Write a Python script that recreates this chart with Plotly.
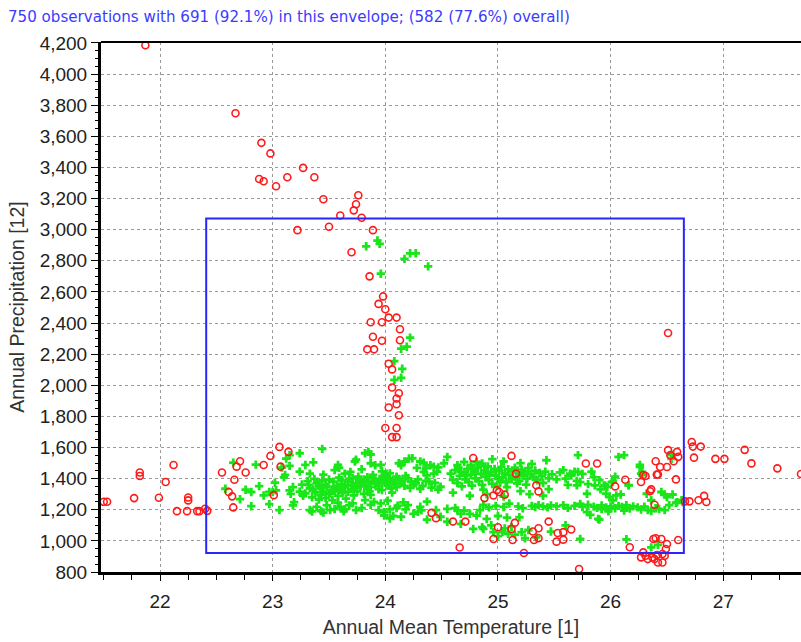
import plotly.graph_objects as go

# ---------------- data ----------------
title_text = "750 observations with 691 (92.1%) in this envelope; (582 (77.6%) overall)"
x_title = "Annual Mean Temperature [1]"
y_title = "Annual Precipitation [12]"

x_ticks = [22, 23, 24, 25, 26, 27]
y_ticks = [800, 1000, 1200, 1400, 1600, 1800, 2000, 2200, 2400, 2600, 2800,
           3000, 3200, 3400, 3600, 3800, 4000, 4200]

# envelope (temperature min/max, precipitation min/max)
env_temp = [22.41, 26.65]
env_prec = [922, 3072]

# observations outside the envelope (red circles)
red_top = [(21.87, 4185), (22.67, 3748), (22.90, 3558), (22.98, 3490), (23.27, 3397),
           (22.88, 3326), (22.92, 3311), (23.13, 3337), (23.37, 3337), (23.03, 3279),
           (23.76, 3221), (23.45, 3195), (23.74, 3163), (23.72, 3124), (23.60, 3091),
           (23.79, 3077), (23.22, 2997), (23.50, 3019), (23.89, 2997), (23.70, 2855),
           (23.86, 2700), (23.98, 2571), (23.94, 2523), (24.00, 2489), (24.03, 2435),
           (24.10, 2435), (23.87, 2405), (23.97, 2405), (24.13, 2360), (23.89, 2312),
           (23.97, 2286), (24.13, 2289), (23.84, 2231), (23.90, 2231), (24.03, 2138),
           (24.06, 2102), (24.06, 1986), (24.12, 1949), (24.10, 1915), (24.10, 1878),
           (24.03, 1857), (24.12, 1807), (24.00, 1725), (24.10, 1725), (24.06, 1667),
           (24.10, 1667), (26.51, 2336)]
red_left = [(21.50, 1251), (21.53, 1251), (21.77, 1275), (21.82, 1439), (21.82, 1417),
            (21.99, 1277), (22.05, 1378), (22.12, 1488), (22.15, 1191), (22.24, 1191),
            (22.25, 1279), (22.25, 1260), (22.33, 1191), (22.35, 1191), (22.40, 1206),
            (22.42, 1193), (22.55, 1439), (22.66, 1393), (22.61, 1314), (22.64, 1286),
            (22.65, 1215), (22.68, 1477), (22.71, 1512), (22.76, 1439), (22.92, 1488),
            (22.98, 1546), (23.06, 1604), (23.07, 1477), (23.14, 1572), (23.01, 1294)]
red_mid = [(24.78, 1533), (24.88, 1275), (24.41, 1180), (24.45, 1146), (24.60, 1124),
           (24.71, 1124), (24.66, 957), (25.12, 1546), (25.78, 1497), (25.88, 1497),
           (24.96, 1292), (24.99, 1325), (25.01, 1314), (25.06, 1297), (25.16, 1432),
           (25.34, 1357), (25.36, 1318), (25.15, 1116), (25.12, 1077), (25.00, 1088),
           (24.96, 1012), (25.13, 1006), (25.31, 1060), (25.36, 1081), (25.32, 1006),
           (25.36, 1017), (25.45, 1124), (25.53, 1051), (25.58, 1056), (25.65, 1073),
           (25.52, 995), (25.58, 1008), (25.23, 922), (25.72, 819)]
red_right = [(26.04, 1350), (26.13, 1393), (26.27, 1378), (26.36, 1331), (26.39, 1232),
             (26.31, 1417), (26.41, 1426), (26.44, 1475), (26.40, 1512), (26.50, 1475),
             (26.56, 1512), (26.53, 1551), (26.51, 1583), (26.59, 1572), (26.60, 1540),
             (26.42, 1427), (26.29, 1423), (26.58, 1395), (26.35, 1319),
             (26.72, 1635), (26.73, 1606), (26.80, 1606), (26.74, 1535), (26.93, 1527),
             (27.01, 1527), (27.19, 1585), (27.25, 1498), (27.48, 1466), (27.69, 1430),
             (26.66, 1254), (26.70, 1254), (26.78, 1261), (26.83, 1289), (26.85, 1250),
             (26.17, 959), (26.27, 894), (26.29, 926), (26.31, 904), (26.33, 883),
             (26.37, 894), (26.39, 883), (26.42, 861), (26.46, 861), (26.48, 904),
             (26.49, 948), (26.50, 980), (26.40, 1017), (26.45, 1012), (26.41, 909),
             (26.46, 916), (26.60, 1006), (26.38, 1012)]

# observations inside the envelope (green crosses)
green_column = [(23.83, 2893), (23.93, 2930), (23.95, 2909), (24.17, 2812), (24.22, 2848),
                (24.27, 2848), (24.38, 2764), (23.96, 2717), (24.22, 2306), (24.14, 2235),
                (24.19, 2248), (24.08, 2155), (24.15, 2106), (24.08, 2035), (24.14, 2048)]
green_left = [(22.65, 1503), (22.58, 1335), (22.76, 1329), (22.81, 1314), (22.81, 1223),
              (22.85, 1490), (22.92, 1292), (22.97, 1314), (23.00, 1314), (23.03, 1325),
              (22.97, 1236), (23.02, 1374), (23.06, 1198), (23.10, 1408), (23.12, 1529),
              (23.15, 1551), (23.15, 1482), (23.18, 1346), (23.15, 1325), (23.19, 1249),
              (23.18, 1228), (22.71, 1268), (22.88, 1352), (23.08, 1471), (23.11, 1424),
              (23.16, 1302)]
green_upper1 = [(23.24, 1563), (23.24, 1445), (23.29, 1488), (23.33, 1432), (23.36, 1505),
                (23.44, 1591), (23.45, 1426), (23.58, 1488), (23.59, 1470), (23.69, 1443),
                (23.73, 1510), (23.74, 1522), (23.79, 1460), (23.82, 1563), (23.85, 1572),
                (23.87, 1555), (23.87, 1499), (23.91, 1486), (23.96, 1488), (23.97, 1447),
                (24.01, 1432), (24.12, 1499), (24.14, 1486), (24.17, 1510), (24.21, 1529),
                (24.24, 1531), (24.28, 1469), (24.31, 1510), (24.34, 1503), (24.36, 1467),
                (24.40, 1486), (24.43, 1477), (24.46, 1445), (24.47, 1472), (24.52, 1499),
                (24.34, 1443), (24.37, 1421), (24.43, 1432), (23.55, 1455), (23.64, 1432)]
green_core1 = [(23.24, 1316), (23.26, 1362), (23.27, 1290), (23.29, 1305), (23.31, 1384),
               (23.32, 1359), (23.33, 1338), (23.35, 1280), (23.36, 1330), (23.37, 1398),
               (23.38, 1312), (23.39, 1370), (23.41, 1266), (23.41, 1350), (23.43, 1342),
               (23.43, 1296), (23.44, 1388), (23.45, 1316), (23.47, 1275), (23.47, 1362),
               (23.48, 1348), (23.50, 1301), (23.50, 1394), (23.51, 1305), (23.53, 1330),
               (23.53, 1262), (23.54, 1381), (23.55, 1321), (23.57, 1352), (23.57, 1338),
               (23.58, 1289), (23.59, 1406), (23.61, 1366), (23.61, 1391), (23.62, 1309),
               (23.64, 1344), (23.64, 1359), (23.65, 1272), (23.67, 1380), (23.67, 1316),
               (23.68, 1398), (23.70, 1333), (23.70, 1356), (23.71, 1402), (23.72, 1292),
               (23.74, 1371), (23.74, 1340), (23.75, 1318), (23.76, 1413), (23.78, 1386),
               (23.78, 1350), (23.79, 1370), (23.81, 1302), (23.81, 1395), (23.82, 1362),
               (23.84, 1334), (23.84, 1410), (23.85, 1380), (23.87, 1346), (23.87, 1295),
               (23.88, 1404), (23.89, 1424), (23.91, 1366), (23.91, 1388), (23.92, 1381),
               (23.94, 1352), (23.94, 1332), (23.95, 1398), (23.97, 1372), (23.97, 1326),
               (23.98, 1415), (23.99, 1413), (24.00, 1386), (24.02, 1356), (24.02, 1370),
               (24.03, 1402), (24.04, 1434), (24.05, 1338), (24.07, 1380), (24.07, 1391),
               (24.08, 1362), (24.10, 1412), (24.10, 1345), (24.12, 1398), (24.13, 1370),
               (24.15, 1386), (24.17, 1354), (24.18, 1418), (24.20, 1402), (24.22, 1340),
               (24.23, 1380), (24.25, 1362), (24.27, 1370), (24.29, 1395), (24.31, 1335),
               (24.33, 1352), (24.36, 1385), (24.39, 1381), (24.41, 1342), (24.44, 1372),
               (24.47, 1330), (24.49, 1348), (23.60, 1328), (23.86, 1318), (24.06, 1310)]
green_lower1 = [(23.33, 1198), (23.39, 1219), (23.43, 1191), (23.48, 1230), (23.51, 1198),
                (23.55, 1204), (23.60, 1219), (23.64, 1204), (23.71, 1241), (23.74, 1198),
                (23.82, 1262), (23.87, 1232), (23.94, 1198), (23.96, 1241), (23.99, 1185),
                (24.04, 1144), (24.04, 1202), (24.07, 1160), (24.10, 1211), (24.11, 1226),
                (24.14, 1155), (24.18, 1202), (24.20, 1230), (24.25, 1174), (24.29, 1187),
                (24.31, 1219), (24.37, 1252), (24.37, 1137), (24.45, 1198), (24.49, 1155),
                (24.55, 1123), (23.35, 1189), (23.45, 1182), (23.63, 1190), (23.79, 1211),
                (23.99, 1163), (24.32, 1196), (23.58, 1245), (23.68, 1228), (23.90, 1250),
                (24.02, 1258), (24.16, 1248)]
green_upper2 = [(24.55, 1540), (24.64, 1486), (24.70, 1507), (24.76, 1486), (24.81, 1507),
                (24.86, 1497), (24.78, 1464), (24.58, 1432), (24.67, 1443), (24.72, 1421),
                (24.80, 1432), (24.90, 1443), (24.92, 1421), (25.43, 1518), (25.20, 1500),
                (25.05, 1510), (24.95, 1525), (25.30, 1495)]
green_core2 = [(24.60, 1392), (24.62, 1455), (24.64, 1372), (24.66, 1418), (24.68, 1350),
               (24.70, 1440), (24.71, 1395), (24.73, 1462), (24.74, 1378), (24.76, 1425),
               (24.77, 1355), (24.79, 1448), (24.80, 1402), (24.82, 1470), (24.83, 1384),
               (24.85, 1430), (24.86, 1360), (24.88, 1455), (24.89, 1412), (24.91, 1478),
               (24.92, 1390), (24.94, 1440), (24.95, 1366), (24.97, 1462), (24.98, 1420),
               (25.00, 1398), (25.01, 1450), (25.03, 1475), (25.04, 1408), (25.06, 1436),
               (25.07, 1380), (25.09, 1460), (25.10, 1422), (25.12, 1396), (25.13, 1448),
               (25.15, 1470), (25.16, 1410), (25.18, 1438), (25.19, 1386), (25.21, 1458),
               (25.22, 1420), (25.24, 1445), (25.26, 1400), (25.27, 1468), (25.29, 1430),
               (25.31, 1412), (25.33, 1452), (25.35, 1390), (25.37, 1436), (25.39, 1416),
               (25.42, 1445), (25.45, 1402), (25.48, 1428), (24.99, 1352), (25.08, 1345),
               (25.25, 1362), (24.87, 1330), (25.40, 1372), (24.90, 1300), (25.05, 1285),
               (25.20, 1320), (25.28, 1300), (25.45, 1332), (25.40, 1290), (24.60, 1310),
               (24.75, 1290), (24.65, 1470), (24.84, 1488), (25.02, 1378), (25.17, 1370)]
green_lower2 = [(24.87, 1232), (24.92, 1215), (24.98, 1225), (25.05, 1218), (25.10, 1240),
                (25.18, 1222), (25.22, 1210), (25.30, 1225), (25.33, 1218), (25.36, 1230),
                (25.40, 1222), (25.44, 1215), (25.47, 1228), (24.62, 1211), (24.67, 1174),
                (24.75, 1174), (24.81, 1163), (24.90, 1141), (24.86, 1088), (24.78, 1077),
                (24.67, 1109), (24.64, 1196), (24.55, 1206), (24.70, 1195), (24.84, 1198),
                (25.00, 1160), (25.08, 1150), (24.87, 1077), (24.96, 1056), (25.04, 1056),
                (25.09, 1045), (25.21, 1056), (25.24, 1017), (25.34, 1023), (25.19, 1152),
                (25.15, 1040), (25.00, 1030), (25.27, 1070), (25.12, 1090), (24.94, 1100),
                (25.06, 1080)]
green_right = [(25.71, 1551), (26.07, 1540), (26.12, 1551), (26.26, 1488), (26.28, 1444),
               (26.28, 1423), (26.54, 1552), (26.54, 1527), (26.04, 1412), (26.02, 1380),
               (25.97, 1347), (25.94, 1354), (26.16, 1358), (25.55, 1440), (25.60, 1400),
               (25.65, 1420), (25.70, 1385), (25.75, 1430), (25.80, 1365), (25.85, 1410),
               (25.90, 1390), (25.62, 1360), (25.52, 1395), (25.58, 1455), (25.68, 1445),
               (25.83, 1445), (25.64, 1432), (25.71, 1443), (25.73, 1378), (25.70, 1357),
               (25.79, 1303), (25.86, 1357), (25.91, 1331), (25.95, 1357), (26.01, 1378),
               (26.16, 1357), (26.26, 1475), (26.27, 1432), (26.32, 1303), (26.45, 1314),
               (26.50, 1282), (26.59, 1249), (26.05, 1292), (25.99, 1282), (26.02, 1260),
               (25.73, 1238), (25.79, 1185), (25.82, 1167), (25.89, 1141),
               (25.52, 1222), (25.58, 1230), (25.62, 1212), (25.68, 1225), (25.75, 1218),
               (25.80, 1232), (25.85, 1220), (25.88, 1212), (25.92, 1228), (25.96, 1215),
               (26.00, 1222), (26.04, 1210), (26.07, 1225), (26.10, 1218), (26.14, 1230),
               (26.17, 1208), (26.20, 1222), (26.24, 1215), (26.27, 1202), (26.30, 1220),
               (26.33, 1198), (26.36, 1192), (26.40, 1210), (26.43, 1205), (26.48, 1198),
               (26.52, 1230), (26.58, 1245), (26.63, 1261), (26.64, 1250), (26.55, 1298),
               (26.48, 1298), (26.36, 1261), (26.09, 1298), (25.96, 1304), (25.92, 1205),
               (26.12, 1195), (25.98, 1190), (25.73, 1012), (26.14, 1010), (25.90, 1137),
               (26.36, 958), (26.42, 974), (25.60, 1100), (25.47, 1060)]

# ---------------- figure ----------------
red_pts = red_top + red_left + red_mid + red_right
green_pts = (green_column + green_left + green_upper1 + green_core1 + green_lower1 +
             green_upper2 + green_core2 + green_lower2 + green_right)

fig = go.Figure()
fig.add_trace(go.Scatter(
    x=[p[0] for p in green_pts], y=[p[1] for p in green_pts], mode="markers",
    marker=dict(symbol="cross", size=7, color="#19e619", line=dict(width=0)),
    hoverinfo="x+y", showlegend=False))
fig.add_trace(go.Scatter(
    x=[p[0] for p in red_pts], y=[p[1] for p in red_pts], mode="markers",
    marker=dict(symbol="circle-open", size=7, color="#ff1a1a", line=dict(width=1.6)),
    hoverinfo="x+y", showlegend=False))

fig.add_shape(type="rect", xref="x", yref="y",
              x0=env_temp[0], x1=env_temp[1], y0=env_prec[0], y1=env_prec[1],
              line=dict(color="#2626ff", width=2), fillcolor="rgba(0,0,0,0)", layer="above")
# thinner top border of the plot area
fig.add_shape(type="line", xref="paper", yref="paper", x0=0, x1=1, y0=1, y1=1,
              line=dict(color="black", width=2), layer="above")

tick_font = dict(family="Liberation Sans, Arial, sans-serif", size=19, color="#222222")
title_font = dict(family="Liberation Sans, Arial, sans-serif", size=19.5, color="#333333")

fig.update_layout(
    width=801, height=642,
    margin=dict(l=101, r=0, t=42, b=70, pad=0),
    paper_bgcolor="white", plot_bgcolor="white",
    title=dict(text=title_text, xref="container", yref="container",
               x=8 / 801, xanchor="left", y=1 - 17 / 642, yanchor="middle",
               font=dict(family="DejaVu Sans, Verdana, sans-serif", size=15.1, color="#3b3bff")),
    xaxis=dict(range=[21.476, 27.69], tickvals=x_ticks, ticktext=[str(v) for v in x_ticks],
               showgrid=True, gridcolor="#9a9a9a", griddash="dot", gridwidth=1,
               zeroline=False, showline=True, linecolor="black", linewidth=3,
               ticks="outside", ticklen=6, tickwidth=1, tickcolor="black",
               ticklabelstandoff=4,
               minor=dict(dtick=0.25, tick0=0, ticks="outside", ticklen=5, tickcolor="black",
                          tickwidth=1, showgrid=False),
               tickfont=tick_font,
               title=dict(text=x_title, font=title_font, standoff=10)),
    yaxis=dict(range=[800, 4206], tickvals=y_ticks,
               ticktext=[f"{v:,}" for v in y_ticks],
               showgrid=True, gridcolor="#9a9a9a", griddash="dot", gridwidth=1,
               zeroline=False, showline=True, linecolor="black", linewidth=3,
               ticks="outside", ticklen=7, tickwidth=1, tickcolor="black",
               minor=dict(dtick=50, tick0=0, ticks="outside", ticklen=3, tickcolor="black",
                          tickwidth=1, showgrid=False),
               tickfont=tick_font,
               title=dict(text=y_title, font=title_font, standoff=10)),
)

fig.write_html("out.html")
